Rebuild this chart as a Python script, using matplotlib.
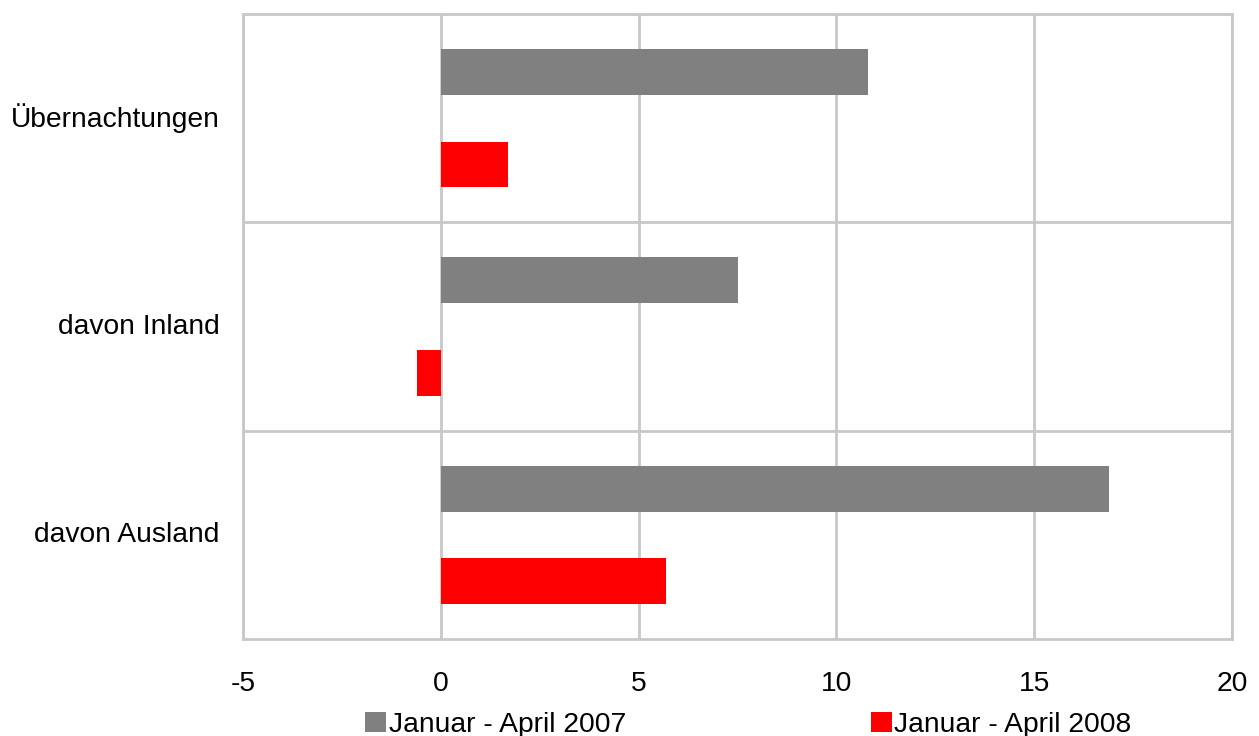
import matplotlib
matplotlib.use("Agg")
import matplotlib.pyplot as plt
import matplotlib.transforms as mtransforms
import numpy as np

categories = ["Übernachtungen", "davon Inland", "davon Ausland"]
series_names = ["Januar - April 2007", "Januar - April 2008"]
values_2007 = [10.8, 7.5, 16.9]
values_2008 = [1.7, -0.6, 5.7]
xticks = [-5, 0, 5, 10, 15, 20]

plt.rcParams['font.family'] = ['Liberation Sans', 'DejaVu Sans']

fig = plt.figure(figsize=(12.59, 7.36), dpi=100)
ax = fig.add_axes([243/1259, 1-639/736, (1232-243)/1259, (639-14)/736])

y = np.arange(len(categories))
h = 0.22
grid_c = "#c8c8c8"
fs = 20.3
b1 = ax.barh(y - 0.222, values_2007, height=h, color="#808080", label=series_names[0], zorder=3)
b2 = ax.barh(y + 0.222, values_2008, height=h, color="#ff0000", label=series_names[1], zorder=3)

ax.set_xlim(-5, 20)
ax.set_ylim(2.5, -0.5)
ax.set_xticks(xticks)
ax.set_xticklabels([str(t) for t in xticks])
ax.set_yticks(y)
ax.set_yticklabels(categories)
ax.set_yticks([0.5, 1.5], minor=True)
ax.grid(True, axis='x', color=grid_c, linewidth=2, zorder=0)
ax.grid(True, axis='y', which='minor', color=grid_c, linewidth=2, zorder=0)
ax.tick_params(axis='both', which='both', length=0, labelsize=fs, colors='black')
ax.tick_params(axis='x', pad=23)
ax.tick_params(axis='y', pad=17)
for s in ax.spines.values():
    s.set_color(grid_c)
    s.set_linewidth(2)

offset = mtransforms.ScaledTranslation(0, 3/100, fig.dpi_scale_trans)
for lbl in ax.get_yticklabels():
    lbl.set_transform(lbl.get_transform() + offset)

fig.legend(handles=[b1, b2], labels=series_names, loc='center left',
           bbox_to_anchor=(365/1259, 1-724.5/736), ncol=2, frameon=False,
           fontsize=fs, handlelength=0.74, handleheight=0.72, handletextpad=0.1,
           columnspacing=8.68, borderpad=0, borderaxespad=0)

fig.savefig("out.png", dpi=100)
